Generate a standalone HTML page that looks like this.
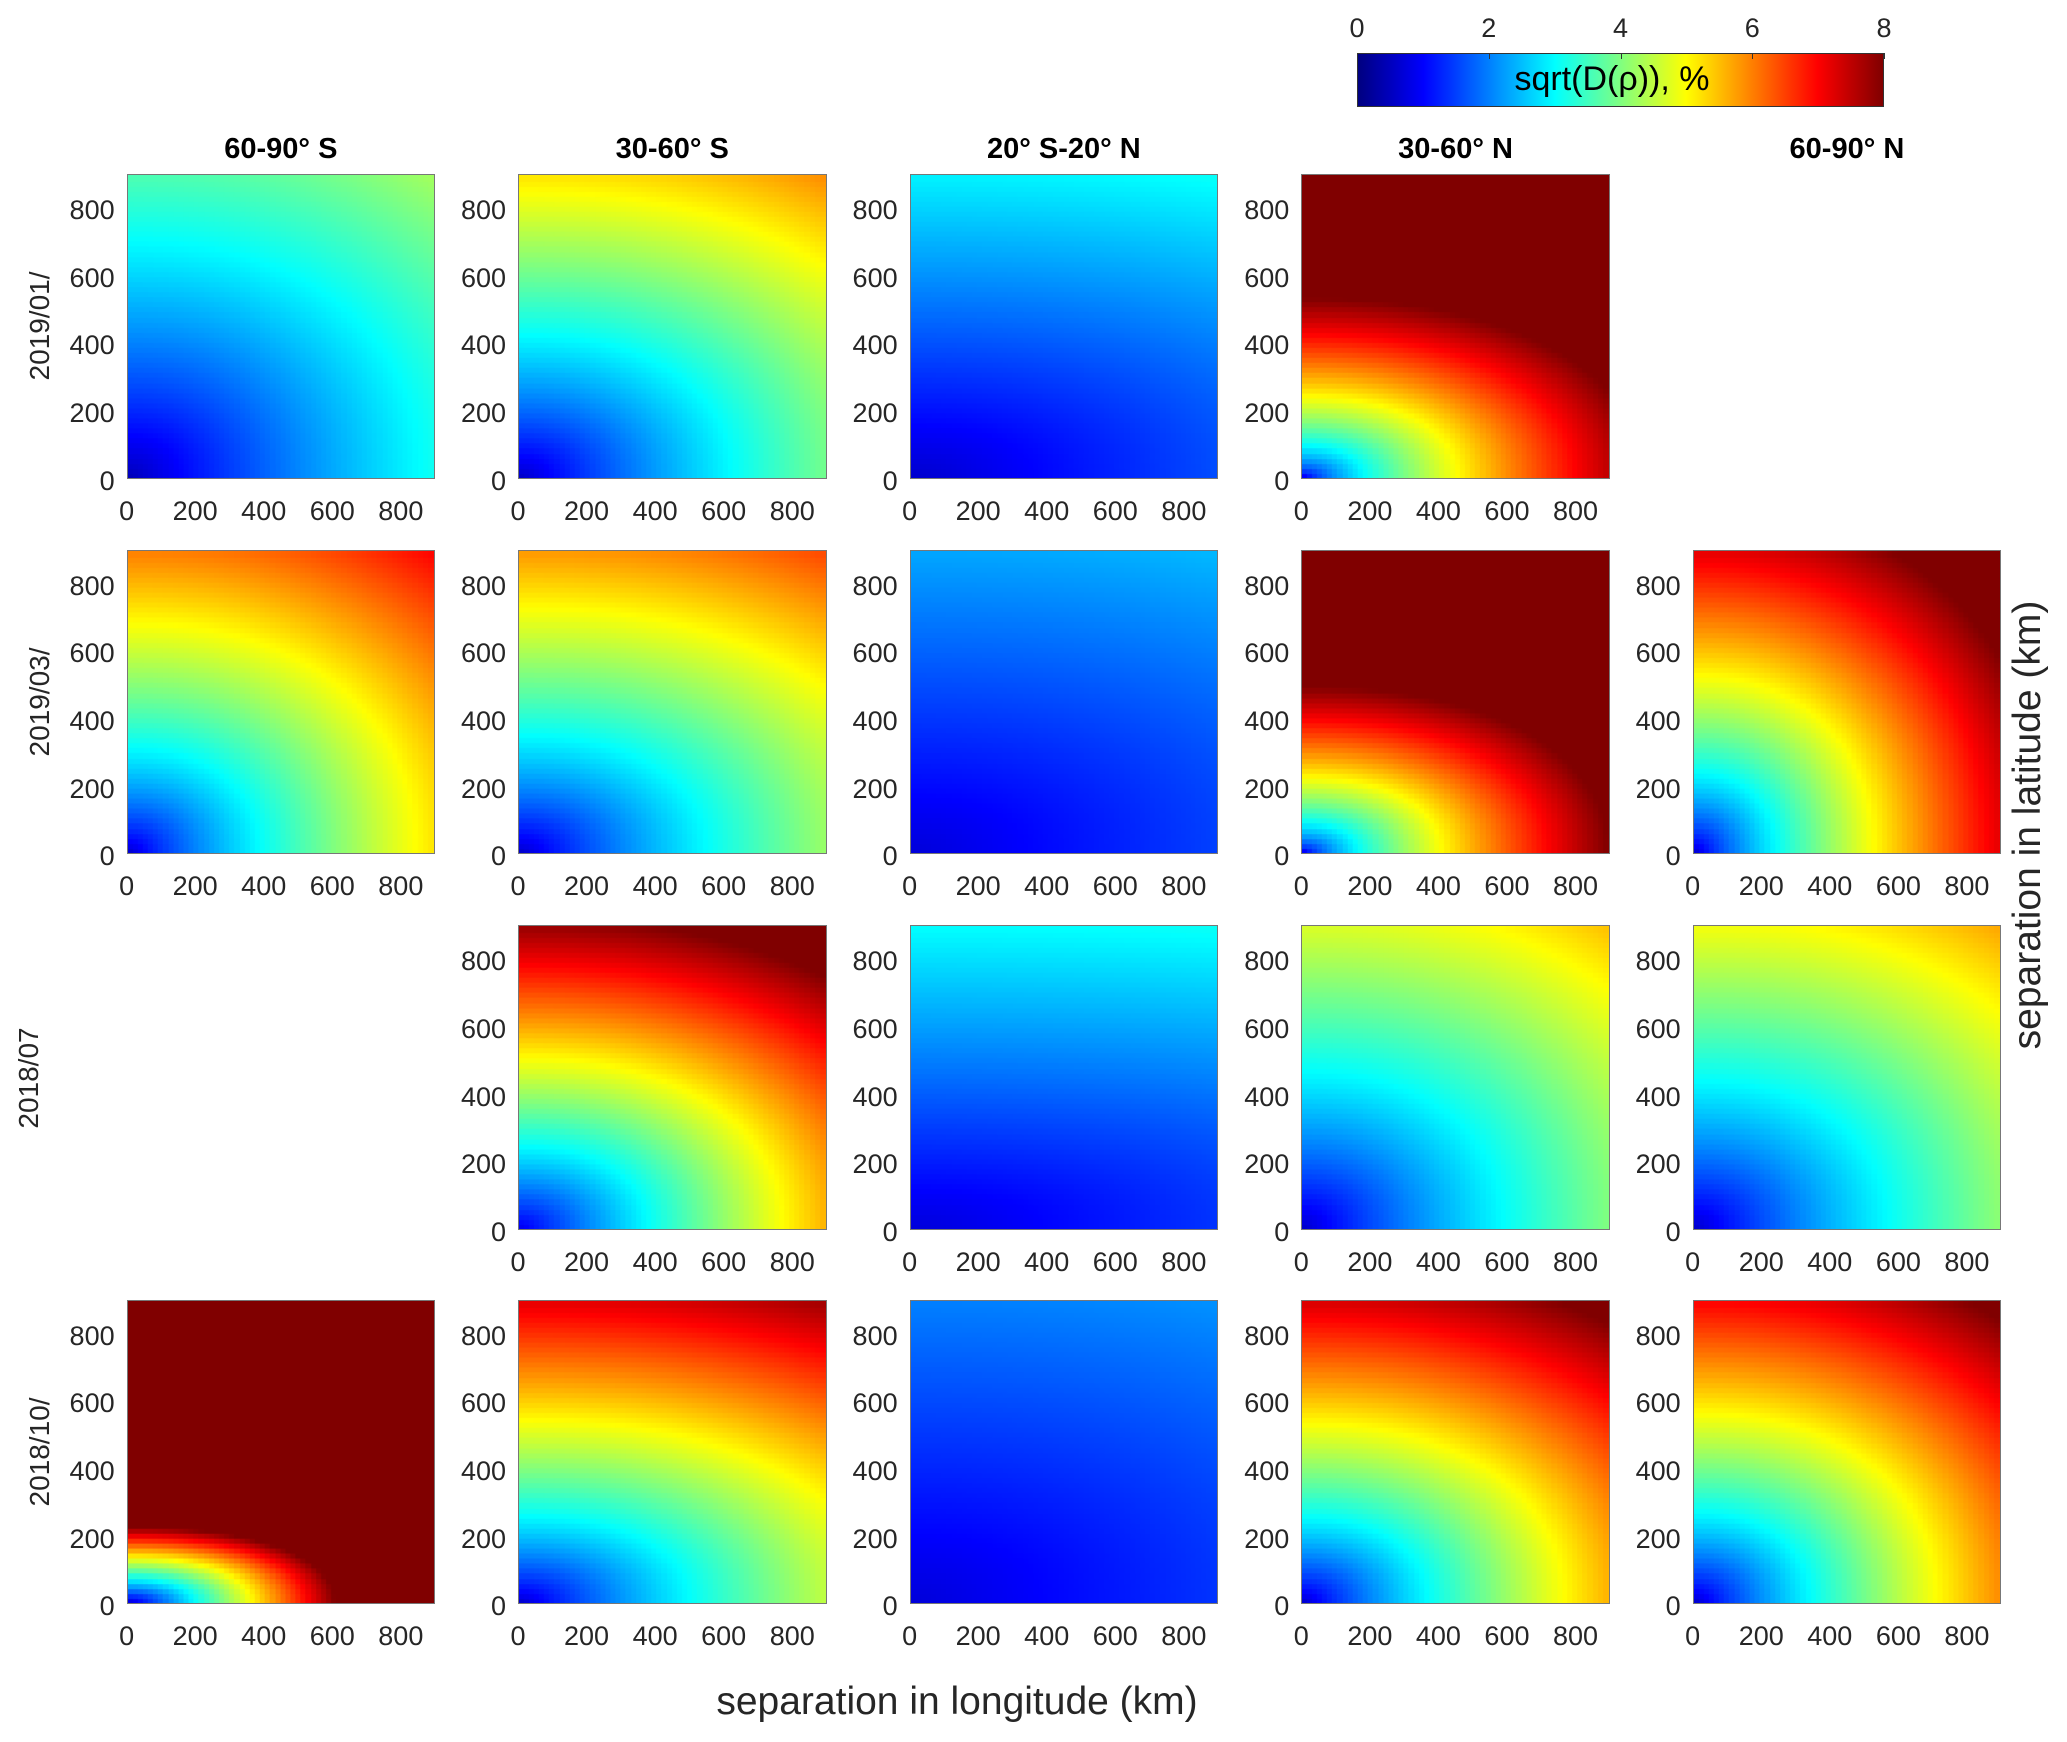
<!DOCTYPE html>
<html><head><meta charset="utf-8">
<style>
body{margin:0;background:#fff;width:2067px;height:1742px;position:relative;overflow:hidden;font-family:"Liberation Sans",sans-serif;color:#262626}
.abs{position:absolute}
.tl{position:absolute;font-size:27px;line-height:27px;white-space:nowrap}
.ttl{position:absolute;font-size:29px;font-weight:bold;color:#000;white-space:nowrap;transform:translateX(-50%)}
canvas{position:absolute;border:1px solid #777;box-sizing:border-box}
.rot{position:absolute;white-space:nowrap;transform:translate(-50%,-50%) rotate(-90deg)}
</style></head><body>
<div id="root"></div>
<script>
const rowLabels=["2019/01/","2019/03/","2018/07","2018/10/"];
const colLabels=["60-90° S","30-60° S","20° S-20° N","30-60° N","60-90° N"];
const xTicks=[0,200,400,600,800];
const yTicks=[0,200,400,600,800];
const cbTicks=[0,2,4,6,8];
// per panel (row-major, null = empty): value at origin, at x=900 (y=0), at y=900 (x=0), growth exponent
const originVals=[0.4,0.5,0.6,0.5,null, 0.5,0.5,0.7,0.5,0.5, null,0.8,0.7,0.5,0.5, 0.6,0.5,0.7,0.5,0.5];
const xEdgeVals=[3.1,3.9,1.6,7.5,null, 5.2,4.2,1.5,8.0,7.2, null,5.6,1.4,4.0,4.1, 11.5,4.5,1.4,5.6,5.9];
const yEdgeVals=[3.6,5.2,2.9,11,null, 6.0,5.8,2.3,11.5,7.2, null,7.8,3.0,4.7,4.9, 29.6,7.2,2.0,7.3,7.0];
const exps=[0.85,0.85,1,0.65,null, 0.75,0.8,1,0.65,0.75, null,0.9,1,0.8,0.8, 1,0.8,1,0.8,0.8];

const root=document.getElementById('root');
const colX=[126.6,518,909.6,1301.3,1692.7], rowY=[174,549.7,925.4,1299.8];
const PW=308.5, PH=304.5, VMAX=900, Q=2.2;
function jet(t){t=Math.max(0,Math.min(1,t));const c=v=>Math.round(255*Math.max(0,Math.min(1,v)));
 return 'rgb('+c(1.5-Math.abs(4*t-3))+','+c(1.5-Math.abs(4*t-2))+','+c(1.5-Math.abs(4*t-1))+')';}
const xs=v=>v/VMAX*PW, ys=v=>PH-v/VMAX*PH;
function add(tag,cls,txt){const e=document.createElement(tag);if(cls)e.className=cls;if(txt!==undefined)e.textContent=txt;root.appendChild(e);return e;}

colLabels.forEach((t,c)=>{const e=add('div','ttl',t);


e.style.left=(colX[c]+PW/2)+'px';e.style.top='133px';});
const rowLX=[40,40,29,40];
rowLabels.forEach((t,r)=>{const e=add('div','rot',t);


e.style.fontSize='28px';e.style.left=rowLX[r]+'px';e.style.top=(rowY[r]+PH/2)+'px';});

for(let r=0;r<4;r++)for(let c=0;c<5;c++){
 const i=r*5+c; if(originVals[i]===null)continue;
 const cv=add('canvas');
 
 
 cv.width=Math.round(PW);cv.height=Math.round(PH);
 cv.style.left=colX[c]+'px';cv.style.top=rowY[r]+'px';cv.style.width=PW+'px';cv.style.height=PH+'px';
 const ctx=cv.getContext('2d');const N=60,step=VMAX/N;
 const v0=originVals[i],p=exps[i],ex=Math.pow(Math.max(xEdgeVals[i]-v0,0),1/p),ey=Math.pow(Math.max(yEdgeVals[i]-v0,0),1/p);
 for(let a=0;a<N;a++)for(let b=0;b<N;b++){
  const x=(a+0.5)*step,y=(b+0.5)*step;
  const u=Math.pow(Math.pow(x/VMAX*ex,Q)+Math.pow(y/VMAX*ey,Q),1/Q);
  const v=v0+Math.pow(u,p);
  ctx.fillStyle=jet(v/8);
  ctx.fillRect(Math.floor(xs(a*step)),Math.floor(ys((b+1)*step)),Math.ceil(xs(step))+1,Math.ceil(PH/N)+1);
 }
 xTicks.forEach(t=>{const e=add('div','tl',t);
 
 
 e.style.left=(colX[c]+xs(t))+'px';e.style.top=(rowY[r]+PH+19)+'px';e.style.transform='translateX(-50%)';});
 yTicks.forEach(t=>{const e=add('div','tl',t);
 
 
 e.style.right=(2067-colX[c]+12)+'px';e.style.top=(rowY[r]+ys(t)-11)+'px';});
}

// colorbar
const cbL=1357,cbR=1884,cbT=53,cbB=107;
const cb=add('div','abs');


let stops=[];for(let k=0;k<=16;k++)stops.push(jet(k/16)+' '+(k/16*100)+'%');
cb.style.cssText='left:'+cbL+'px;top:'+cbT+'px;width:'+(cbR-cbL)+'px;height:'+(cbB-cbT)+'px;border:1px solid #333;box-sizing:border-box;background:linear-gradient(to right,'+stops.join(',')+')';
cbTicks.forEach(t=>{const x=cbL+t/8*(cbR-cbL);
 const e=add('div','tl',t);
 
 
 e.style.left=x+'px';e.style.top='15px';e.style.transform='translateX(-50%)';
 const k=add('div','abs');
 
 
 k.style.cssText='left:'+x+'px;top:'+cbT+'px;width:1px;height:6px;background:#333';});
const cl=add('div','abs','sqrt(D(ρ)), %');


cl.style.cssText='left:1612px;top:60px;font-size:34px;color:#000;transform:translateX(-50%);white-space:nowrap';

const xl=add('div','abs','separation in longitude (km)');


xl.style.cssText='left:957px;top:1680px;font-size:39px;transform:translateX(-50%);white-space:nowrap';
const yl=add('div','rot','separation in latitude (km)');


yl.style.fontSize='39px';yl.style.left='2028px';yl.style.top='825px';
</script>
</body></html>
